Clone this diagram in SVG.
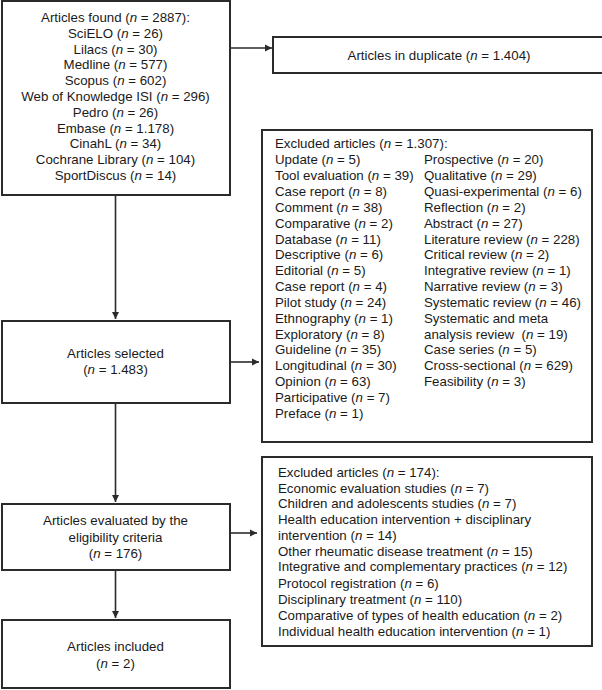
<svg xmlns="http://www.w3.org/2000/svg" width="602" height="690" viewBox="0 0 602 690">
<defs>
<style>
.box{fill:#fff;stroke:#2b2b2b;stroke-width:2}
.t{font-family:"Liberation Sans",Arial,sans-serif;font-size:13.3px;fill:#1a1a1a}
.c{text-anchor:middle}
.i{font-style:italic}
.ln{stroke:#2b2b2b;stroke-width:1.6;fill:none}
</style>
<marker id="ah" markerWidth="8" markerHeight="8" refX="7" refY="4" orient="auto" markerUnits="userSpaceOnUse">
<path d="M0,0.5 L7,4 L0,7.5 Z" fill="#2b2b2b"/>
</marker>
</defs>
<rect width="602" height="690" fill="#fff"/>
<g id="connectors">
<line class="ln" x1="115.5" y1="195" x2="115.5" y2="319" marker-end="url(#ah)"/>
<line class="ln" x1="230" y1="48" x2="272" y2="48" marker-end="url(#ah)"/>
<line class="ln" x1="230" y1="362" x2="259" y2="362" marker-end="url(#ah)"/>
<line class="ln" x1="115.5" y1="403" x2="115.5" y2="502" marker-end="url(#ah)"/>
<line class="ln" x1="230" y1="533" x2="257" y2="533" marker-end="url(#ah)"/>
<line class="ln" x1="115.5" y1="570" x2="115.5" y2="618" marker-end="url(#ah)"/>
</g>
<g id="found">
<rect class="box" x="2" y="1" width="228" height="194"/>
<text class="t c" x="115.5" y="22">Articles found (<tspan class="i">n</tspan> = 2887):</text>
<text class="t c" x="115.5" y="38">SciELO (<tspan class="i">n</tspan> = 26)</text>
<text class="t c" x="115.5" y="54">Lilacs (<tspan class="i">n</tspan> = 30)</text>
<text class="t c" x="115.5" y="69">Medline (<tspan class="i">n</tspan> = 577)</text>
<text class="t c" x="115.5" y="85">Scopus (<tspan class="i">n</tspan> = 602)</text>
<text class="t c" x="115.5" y="101">Web of Knowledge ISI (<tspan class="i">n</tspan> = 296)</text>
<text class="t c" x="115.5" y="117">Pedro (<tspan class="i">n</tspan> = 26)</text>
<text class="t c" x="115.5" y="133">Embase (<tspan class="i">n</tspan> = 1.178)</text>
<text class="t c" x="115.5" y="148">CinahL (<tspan class="i">n</tspan> = 34)</text>
<text class="t c" x="115.5" y="164">Cochrane Library (<tspan class="i">n</tspan> = 104)</text>
<text class="t c" x="115.5" y="180">SportDiscus (<tspan class="i">n</tspan> = 14)</text>
</g>
<g id="duplicate">
<rect class="box" x="273" y="37" width="334" height="36"/>
<text class="t c" x="439" y="60">Articles in duplicate (<tspan class="i">n</tspan> = 1.404)</text>
</g>
<g id="excluded1">
<rect class="box" x="262" y="130" width="330" height="312"/>
<text class="t" x="275" y="148">Excluded articles (<tspan class="i">n</tspan> = 1.307):</text>
<text class="t" x="275" y="164">Update (<tspan class="i">n</tspan> = 5)</text>
<text class="t" x="275" y="180">Tool evaluation (<tspan class="i">n</tspan> = 39)</text>
<text class="t" x="275" y="196">Case report (<tspan class="i">n</tspan> = 8)</text>
<text class="t" x="275" y="212">Comment (<tspan class="i">n</tspan> = 38)</text>
<text class="t" x="275" y="228">Comparative (<tspan class="i">n</tspan> = 2)</text>
<text class="t" x="275" y="244">Database (<tspan class="i">n</tspan> = 11)</text>
<text class="t" x="275" y="259">Descriptive (<tspan class="i">n</tspan> = 6)</text>
<text class="t" x="275" y="275">Editorial (<tspan class="i">n</tspan> = 5)</text>
<text class="t" x="275" y="291">Case report (<tspan class="i">n</tspan> = 4)</text>
<text class="t" x="275" y="307">Pilot study (<tspan class="i">n</tspan> = 24)</text>
<text class="t" x="275" y="323">Ethnography (<tspan class="i">n</tspan> = 1)</text>
<text class="t" x="275" y="339">Exploratory (<tspan class="i">n</tspan> = 8)</text>
<text class="t" x="275" y="354">Guideline (<tspan class="i">n</tspan> = 35)</text>
<text class="t" x="275" y="370">Longitudinal (<tspan class="i">n</tspan> = 30)</text>
<text class="t" x="275" y="386">Opinion (<tspan class="i">n</tspan> = 63)</text>
<text class="t" x="275" y="402">Participative (<tspan class="i">n</tspan> = 7)</text>
<text class="t" x="275" y="418">Preface (<tspan class="i">n</tspan> = 1)</text>
<text class="t" x="424" y="164">Prospective (<tspan class="i">n</tspan> = 20)</text>
<text class="t" x="424" y="180">Qualitative (<tspan class="i">n</tspan> = 29)</text>
<text class="t" x="424" y="196">Quasi-experimental (<tspan class="i">n</tspan> = 6)</text>
<text class="t" x="424" y="212">Reflection (<tspan class="i">n</tspan> = 2)</text>
<text class="t" x="424" y="228">Abstract (<tspan class="i">n</tspan> = 27)</text>
<text class="t" x="424" y="244">Literature review (<tspan class="i">n</tspan> = 228)</text>
<text class="t" x="424" y="259">Critical review (<tspan class="i">n</tspan> = 2)</text>
<text class="t" x="424" y="275">Integrative review (<tspan class="i">n</tspan> = 1)</text>
<text class="t" x="424" y="291">Narrative review (<tspan class="i">n</tspan> = 3)</text>
<text class="t" x="424" y="307">Systematic review (<tspan class="i">n</tspan> = 46)</text>
<text class="t" x="424" y="323">Systematic and meta</text>
<text class="t" x="424" y="339" xml:space="preserve">analysis review  (<tspan class="i">n</tspan> = 19)</text>
<text class="t" x="424" y="354">Case series (<tspan class="i">n</tspan> = 5)</text>
<text class="t" x="424" y="370">Cross-sectional (<tspan class="i">n</tspan> = 629)</text>
<text class="t" x="424" y="386">Feasibility (<tspan class="i">n</tspan> = 3)</text>
</g>
<g id="selected">
<rect class="box" x="2" y="321" width="228" height="82"/>
<text class="t c" x="115.5" y="358">Articles selected</text>
<text class="t c" x="115.5" y="374">(<tspan class="i">n</tspan> = 1.483)</text>
</g>
<g id="excluded2">
<rect class="box" x="262" y="457" width="330" height="189"/>
<text class="t" x="278" y="477">Excluded articles (<tspan class="i">n</tspan> = 174):</text>
<text class="t" x="278" y="493">Economic evaluation studies (<tspan class="i">n</tspan> = 7)</text>
<text class="t" x="278" y="508">Children and adolescents studies (<tspan class="i">n</tspan> = 7)</text>
<text class="t" x="278" y="524">Health education intervention + disciplinary</text>
<text class="t" x="278" y="540">intervention (<tspan class="i">n</tspan> = 14)</text>
<text class="t" x="278" y="556">Other rheumatic disease treatment (<tspan class="i">n</tspan> = 15)</text>
<text class="t" x="278" y="571">Integrative and complementary practices (<tspan class="i">n</tspan> = 12)</text>
<text class="t" x="278" y="588">Protocol registration (<tspan class="i">n</tspan> = 6)</text>
<text class="t" x="278" y="604">Disciplinary treatment (<tspan class="i">n</tspan> = 110)</text>
<text class="t" x="278" y="620">Comparative of types of health education (<tspan class="i">n</tspan> = 2)</text>
<text class="t" x="278" y="636">Individual health education intervention (<tspan class="i">n</tspan> = 1)</text>
</g>
<g id="eligibility">
<rect class="box" x="2" y="504" width="228" height="66"/>
<text class="t c" x="115.5" y="525">Articles evaluated by the</text>
<text class="t c" x="115.5" y="542">eligibility criteria</text>
<text class="t c" x="115.5" y="558">(<tspan class="i">n</tspan> = 176)</text>
</g>
<g id="included">
<rect class="box" x="2" y="620" width="228" height="68"/>
<text class="t c" x="115.5" y="651">Articles included</text>
<text class="t c" x="115.5" y="668">(<tspan class="i">n</tspan> = 2)</text>
</g>
</svg>
